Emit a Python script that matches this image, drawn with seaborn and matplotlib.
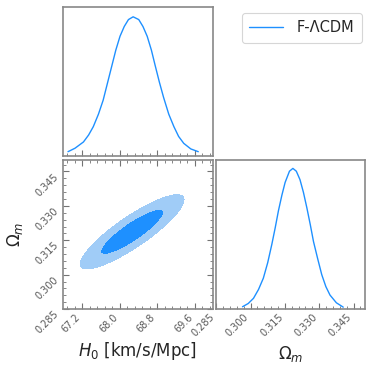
import numpy as np
import seaborn as sns
import matplotlib
matplotlib.use("Agg")
import matplotlib.pyplot as plt
from matplotlib.lines import Line2D
from matplotlib.ticker import AutoMinorLocator

# 1D marginal of H0 (peak normalised to 1)
h0_vals = [66.90, 67.05, 67.23, 67.34, 67.44, 67.55, 67.65, 67.74, 67.83,
           67.92, 68.01, 68.10, 68.19, 68.29, 68.41, 68.50, 68.59, 68.68,
           68.76, 68.85, 68.94, 69.05, 69.16, 69.26, 69.37, 69.52, 69.68]
h0_dens = [0.03, 0.055, 0.10, 0.15, 0.21, 0.30, 0.40, 0.52, 0.64,
           0.76, 0.86, 0.93, 0.98, 1.00, 0.98, 0.93, 0.86, 0.76,
           0.65, 0.53, 0.42, 0.30, 0.21, 0.14, 0.09, 0.05, 0.03]

# 1D marginal of Omega_m
om_vals = [0.2965, 0.2990, 0.3013, 0.3035, 0.3056, 0.3075, 0.3093, 0.3108,
           0.3122, 0.3137, 0.3151, 0.3170, 0.3185, 0.3200, 0.3216, 0.3231,
           0.3246, 0.3261, 0.3275, 0.3293, 0.3311, 0.3329, 0.3347, 0.3375,
           0.3405]
om_dens = [0.017, 0.04, 0.077, 0.14, 0.22, 0.33, 0.46, 0.58,
           0.70, 0.81, 0.90, 0.98, 1.00, 0.98, 0.92, 0.83,
           0.72, 0.60, 0.48, 0.36, 0.245, 0.16, 0.10, 0.045,
           0.014]

# 2D posterior summary (mean, sigma, correlation)
h0_mean, h0_sig = 68.27, 0.445
om_mean, om_sig = 0.3187, 0.0065
rho = 0.87

h0_lim = (66.79, 69.99)
om_lim = (0.285, 0.350)
h0_ticks = [67.2, 68.0, 68.8, 69.6]
om_ticks = [0.285, 0.300, 0.315, 0.330, 0.345]
label = "F-ΛCDM"

line_col = "#1E90FF"
inner_col = "#1E90FF"
outer_col = "#A0CCF7"
spine_col = "#888888"

sns.set_style("ticks")
plt.rcParams["mathtext.fontset"] = "dejavusans"

fig = plt.figure(figsize=(3.74, 3.72), dpi=100)
ax_top = fig.add_axes([0.168, 0.581, 0.401, 0.400])
ax_2d = fig.add_axes([0.168, 0.169, 0.401, 0.401])
ax_right = fig.add_axes([0.578, 0.169, 0.398, 0.401])


def style(ax, left=True, top=False, right=False):
    for s in ax.spines.values():
        s.set_color(spine_col)
        s.set_linewidth(1.2)
        s.set_visible(True)
    ax.tick_params(which="both", direction="in", color="0.45",
                   labelcolor="0.35", labelsize=7, pad=2,
                   left=left, right=right, top=top, bottom=True)
    ax.tick_params(which="major", length=4, width=0.8)
    ax.tick_params(which="minor", length=2, width=0.6)


# top: H0 marginal
sns.lineplot(x=h0_vals, y=h0_dens, ax=ax_top, color=line_col, lw=1.0)
ax_top.set_xlim(*h0_lim)
ax_top.set_ylim(0, 1.07)
ax_top.set_xticks(h0_ticks)
ax_top.xaxis.set_minor_locator(AutoMinorLocator(5))
ax_top.set_xticklabels([])
ax_top.set_yticks([])
style(ax_top, left=False)

# 2D contours
gx = np.linspace(h0_lim[0], h0_lim[1], 400)
gy = np.linspace(om_lim[0], om_lim[1], 400)
X, Y = np.meshgrid(gx, gy)
dx = (X - h0_mean) / h0_sig
dy = (Y - om_mean) / om_sig
chi2 = (dx ** 2 - 2 * rho * dx * dy + dy ** 2) / (1 - rho ** 2)
ax_2d.contourf(X, Y, chi2, levels=[0, 2.30, 6.18], colors=[inner_col, outer_col])
ax_2d.set_xlim(*h0_lim)
ax_2d.set_ylim(*om_lim)
ax_2d.set_xticks(h0_ticks)
ax_2d.set_yticks(om_ticks)
ax_2d.xaxis.set_minor_locator(AutoMinorLocator(5))
ax_2d.yaxis.set_minor_locator(AutoMinorLocator(5))
style(ax_2d, left=True, top=True, right=True)
ax_2d.set_xticklabels([f"{t:.1f}" for t in h0_ticks])
ax_2d.set_yticklabels([f"{t:.3f}" for t in om_ticks])
plt.setp(ax_2d.get_xticklabels(), rotation=45, ha="right", va="top")
plt.setp(ax_2d.get_yticklabels(), rotation=45, ha="right", va="top")
ax_2d.set_xlabel(r"$H_0$ [km/s/Mpc]", fontsize=12, labelpad=4)
ax_2d.set_ylabel(r"$\Omega_m$", fontsize=12, labelpad=6)

# right: Omega_m marginal
sns.lineplot(x=om_vals, y=om_dens, ax=ax_right, color=line_col, lw=1.0)
ax_right.set_xlim(*om_lim)
ax_right.set_ylim(0, 1.06)
ax_right.set_xticks(om_ticks)
ax_right.xaxis.set_minor_locator(AutoMinorLocator(5))
ax_right.set_yticks([])
style(ax_right, left=False)
ax_right.set_xticklabels([f"{t:.3f}" for t in om_ticks])
plt.setp(ax_right.get_xticklabels(), rotation=45, ha="right", va="top")
ax_right.set_xlabel(r"$\Omega_m$", fontsize=12, labelpad=4)

handles = [Line2D([0], [0], color=line_col, lw=1.0)]
leg = fig.legend(handles, [label], loc="upper right",
                 bbox_to_anchor=(0.968, 0.965), borderaxespad=0,
                 fontsize=10.5, frameon=True, fancybox=True,
                 handlelength=2.3, borderpad=0.5, handletextpad=1.0)
leg.get_frame().set_edgecolor("#cccccc")
leg.get_frame().set_linewidth(0.8)

fig.savefig("out.png", dpi=100)
